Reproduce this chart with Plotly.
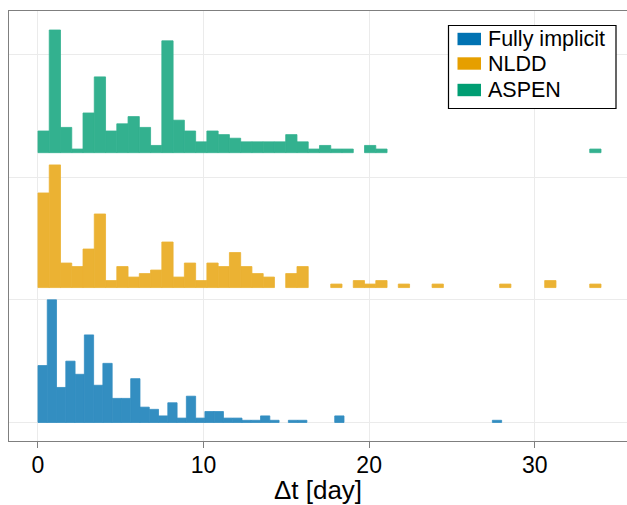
import plotly.graph_objects as go

# ---------------- data ----------------
series_names = ["Fully implicit", "NLDD", "ASPEN"]
series_colors = ["#0072B2", "#E69F00", "#009E73"]
bin_start = [0.0, 0.0, 0.0]          # days
bin_width = [0.56, 0.68, 0.68]       # days (50 bins each)
ridge_offset = [0.0, 1.1, 2.2]       # vertical offset of each normalised histogram

fully_implicit_counts = [26, 56, 16, 28, 22, 40, 17, 27, 11, 11, 20, 7, 6, 3, 9, 2, 12, 2, 5, 5,
                         2, 2, 1, 1, 3, 1, 0, 1, 1, 0, 0, 0, 3, 0, 0, 0, 0, 0, 0, 0,
                         0, 0, 0, 0, 0, 0, 0, 0, 0, 1]
nldd_counts = [27, 35, 7, 6, 11, 21, 2, 6, 3, 4, 5, 13, 3, 7, 2, 7, 6, 10, 6, 4,
               3, 0, 4, 6, 0, 0, 1, 0, 2, 1, 2, 0, 1, 0, 0, 1, 0, 0, 0, 0,
               0, 1, 0, 0, 0, 2, 0, 0, 0, 1]
aspen_counts = [6, 34, 7, 1, 11, 21, 6, 8, 10, 7, 2, 31, 9, 6, 3, 6, 5, 4, 3, 3,
                3, 3, 5, 3, 1, 2, 1, 1, 0, 2, 1, 0, 0, 0, 0, 0, 0, 0, 0, 0,
                0, 0, 0, 0, 0, 0, 0, 0, 0, 1]
all_counts = [fully_implicit_counts, nldd_counts, aspen_counts]

x_ticks = [0, 10, 20, 30]
x_label = "Δt [day]"

# ---------------- layout constants ----------------
W, H = 627, 505
ML, MR, MT, MB = 9, 0, 11, 64
FONT = "Liberation Sans, Arial, sans-serif"
AXIS_GREY = "#7f7f7f"
GRID = "#ebebeb"
BAR_ALPHA = 0.8


def blend(hex_color, alpha):
    h = hex_color.lstrip("#")
    r, g, b = (int(h[i:i + 2], 16) for i in (0, 2, 4))
    r, g, b = (round(alpha * c + (1 - alpha) * 255) for c in (r, g, b))
    return f"rgb({r},{g},{b})"


fig = go.Figure()
for name, color, x0, bw, off, counts in zip(series_names, series_colors, bin_start,
                                            bin_width, ridge_offset, all_counts):
    m = max(counts)
    xs, ys = [], []
    for i, c in enumerate(counts):
        if c > 0:
            xs.append(x0 + (i + 0.5) * bw)
            ys.append(c / m)
    fc = blend(color, BAR_ALPHA)
    fig.add_trace(go.Bar(
        x=xs, y=ys, base=off, width=bw, name=name,
        marker=dict(color=fc, line=dict(width=0.8, color=fc)),
        showlegend=False,
    ))

# manual legend (matplotlib-like patches)
pw = W - ML - MR
ph = H - MT - MB


def px2paper(px, py):
    return (px - ML) / pw, (H - MB - py) / ph


shapes = []
annotations = []
bx0, by0 = px2paper(448.5, 25.5)
bx1, by1 = px2paper(616, 108.5)
shapes.append(dict(type="rect", xref="paper", yref="paper", x0=bx0, y0=by1, x1=bx1, y1=by0,
                   line=dict(color="black", width=1.2), fillcolor="white", layer="above"))
row_y = [39, 63.5, 90]
for name, color, cy in zip(series_names, series_colors, row_y):
    ix0, iy0 = px2paper(457.5, cy - 6.2)
    ix1, iy1 = px2paper(481, cy + 6.2)
    shapes.append(dict(type="rect", xref="paper", yref="paper", x0=ix0, y0=iy1, x1=ix1, y1=iy0,
                       line=dict(width=0), fillcolor=color, layer="above"))
    tx, ty = px2paper(486, cy)
    annotations.append(dict(xref="paper", yref="paper", x=tx, y=ty, text=name, showarrow=False,
                            xanchor="left", yanchor="middle",
                            font=dict(family=FONT, size=21.5, color="black")))

fig.update_layout(
    width=W, height=H,
    margin=dict(l=ML, r=MR, t=MT, b=MB, pad=0, autoexpand=False),
    paper_bgcolor="white", plot_bgcolor="white",
    barmode="overlay",
    showlegend=False,
    font=dict(family=FONT, color="black"),
    shapes=shapes, annotations=annotations,
)
fig.update_xaxes(
    range=[-1.75, 35.57], tickvals=x_ticks, ticks="outside", ticklen=6, tickwidth=1.2,
    tickcolor=AXIS_GREY, tickfont=dict(size=23, family=FONT, color="black"),
    ticklabelstandoff=-3, automargin=False,
    showgrid=True, gridcolor=GRID, gridwidth=1, zeroline=False,
    showline=True, linecolor=AXIS_GREY, linewidth=1.2, mirror=True,
    title=dict(text=x_label, font=dict(size=26, family=FONT, color="black"), standoff=11),
)
fig.update_yaxes(
    range=[-0.151, 3.355], tickvals=[0, 1, 2, 3], showticklabels=False, ticks="",
    automargin=False,
    showgrid=True, gridcolor=GRID, gridwidth=1, zeroline=False,
    showline=True, linecolor=AXIS_GREY, linewidth=1.2, mirror=True,
)

fig.write_html("out.html")
